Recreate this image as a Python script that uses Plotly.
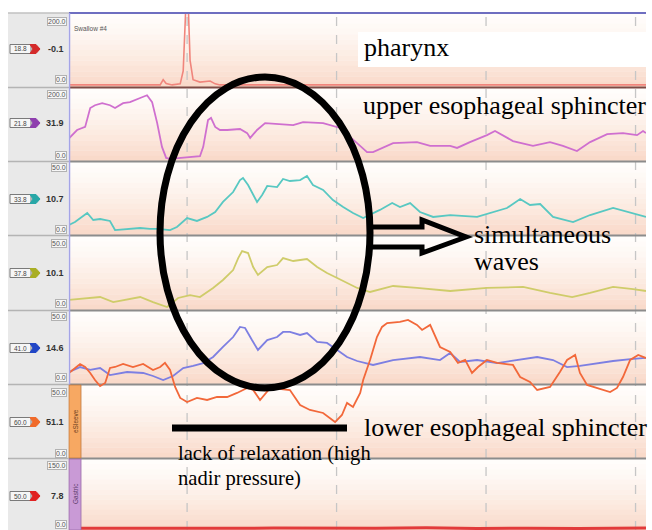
import plotly.graph_objects as go

# ---------------- data: time (s) and pressure (mmHg) ----------------
pharynx_t = [1.05, 4.10, 4.20, 4.30, 4.50, 4.77, 4.87, 4.97, 5.03, 5.10, 5.20, 5.43, 5.77, 5.94, 6.10, 20.35]
pharynx_v = [0, 0, 15, 4, 0, 3, 40, 250, 250, 70, 15, 8, 11, 3, 0, 0]

ues_t = [1.05, 1.32, 1.59, 1.76, 1.92, 2.16, 2.42, 2.59, 2.86, 3.09, 3.43, 3.66, 3.83, 4.00, 4.16,
         4.30, 4.43, 5.43, 5.54, 5.70, 5.80, 5.94, 6.10, 6.34, 6.77, 7.01, 7.11, 7.34, 7.61, 8.11,
         8.55, 8.88, 9.55, 10.12, 11.02, 11.22, 11.89, 12.69, 13.13, 13.80, 14.03, 14.46, 15.03,
         15.30, 15.53, 15.90, 16.57, 17.14, 17.57, 18.04, 18.48, 19.05, 19.58, 20.05, 20.25, 20.35]
ues_v = [60, 84, 93, 148, 156, 162, 156, 148, 162, 165, 177, 185, 165, 104, 35,
         3, 0, 8, 35, 113, 119, 93, 84, 84, 87, 75, 61, 84, 104, 101,
         98, 107, 104, 90, 20, 20, 46, 49, 38, 38, 32, 49, 69,
         81, 69, 52, 38, 49, 38, 23, 49, 72, 75, 69, 81, 75]

cyan_t = [1.05, 1.25, 1.66, 1.86, 2.09, 2.42, 2.59, 2.93, 3.43, 3.76, 4.00, 4.43, 4.66, 5.00, 5.33,
          5.67, 5.94, 6.20, 6.54, 6.77, 6.87, 7.04, 7.34, 7.51, 7.68, 8.01, 8.21, 8.44, 8.78, 9.01,
          9.21, 9.55, 9.88, 10.22, 10.55, 10.89, 11.45, 11.86, 12.12, 12.46, 12.79, 13.23, 13.80,
          14.70, 15.13, 15.70, 16.14, 16.47, 16.81, 17.24, 17.91, 18.48, 19.25, 19.82, 20.35]
cyan_v = [5.8, 7.9, 14.5, 9.4, 10.1, 8.7, 2.1, 2.9, 3.6, 2.9, 2.9, 2.1, 4.3, 10.8, 8.7,
          11.6, 15.2, 22.5, 29.7, 38.4, 39.9, 34.8, 22.5, 27.5, 34.1, 33.3, 39.2, 37.7, 38.4, 41.3,
          34.8, 31.2, 23.9, 18.8, 14.5, 10.8, 16.7, 21.7, 18.8, 21.7, 15.2, 11.6, 13.0,
          11.6, 14.5, 18.1, 24.6, 20.3, 21.0, 11.6, 7.9, 13.0, 18.1, 14.5, 11.6]

yel_t = [1.05, 2.09, 2.53, 3.43, 3.86, 4.33, 4.70, 5.10, 5.43, 5.87, 6.20, 6.54, 6.71, 6.84, 7.04,
         7.21, 7.37, 7.68, 8.01, 8.21, 8.55, 9.01, 9.35, 9.68, 10.02, 10.35, 10.69, 11.12, 11.89,
         12.69, 13.80, 15.03, 16.24, 17.14, 17.88, 18.48, 19.25, 19.92, 20.35]
yel_v = [5.7, 7.8, 4.2, 7.8, 4.2, 0.6, 7.1, 9.2, 7.8, 14.3, 20.0, 27.1, 35.7, 40.7, 39.3,
         29.3, 23.6, 29.3, 30.7, 35.7, 33.6, 35.0, 29.3, 25.0, 21.4, 17.8, 14.3, 11.4, 15.7,
         14.3, 12.1, 14.3, 15.0, 10.7, 7.8, 10.7, 15.0, 13.5, 12.1]

blue_t = [1.05, 1.42, 1.76, 2.09, 2.42, 2.99, 3.53, 3.86, 4.20, 4.53, 4.87, 5.20, 5.54, 5.87, 6.20,
          6.54, 6.77, 6.94, 7.17, 7.37, 7.68, 8.01, 8.21, 8.44, 8.78, 9.01, 9.35, 9.68, 10.02, 10.35,
          10.69, 11.22, 11.89, 12.79, 13.46, 13.80, 14.13, 14.70, 15.37, 16.24, 16.71, 17.24, 17.71,
          18.14, 18.71, 19.25, 19.92, 20.35]
blue_v = [7.2, 10.8, 8.7, 10.1, 5.0, 7.2, 6.5, 4.3, 1.4, 4.3, 10.1, 11.6, 13.7, 18.1, 25.4,
          32.6, 39.9, 39.2, 30.4, 23.2, 30.4, 32.6, 36.3, 36.3, 34.1, 35.5, 29.0, 28.3, 23.2, 18.1,
          15.2, 12.3, 15.9, 18.1, 15.9, 21.0, 14.5, 15.9, 13.7, 16.7, 18.1, 15.9, 10.8,
          11.6, 13.7, 15.2, 16.7, 17.4]

esleeve_t = [1.05, 1.42, 1.59, 1.76, 1.92, 2.09, 2.26, 2.42, 2.59, 2.86, 3.19, 3.53, 3.86, 4.10, 4.26,
             4.43, 4.60, 4.77, 5.00, 5.33, 5.67, 6.00, 6.34, 6.67, 7.01, 7.21, 7.44, 7.68, 7.78, 8.44,
             8.78, 9.11, 9.55, 9.95, 10.18, 10.35, 10.55, 10.79, 10.89, 11.12, 11.35, 11.52, 11.69,
             12.12, 12.39, 12.69, 12.86, 13.13, 13.30, 13.46, 13.80, 14.06, 14.30, 14.53, 14.73,
             15.03, 15.37, 15.90, 16.14, 16.47, 16.71, 17.14, 17.47, 17.71, 17.98, 18.14, 18.38,
             18.71, 19.15, 19.38, 19.58, 19.82, 20.09, 20.35]
esleeve_v = [60.4, 67.0, 64.8, 60.4, 55.2, 50.7, 53.0, 64.1, 64.8, 67.0, 64.8, 67.0, 62.6, 64.8, 67.8,
             62.6, 50.0, 41.9, 38.9, 41.9, 40.4, 42.6, 42.6, 45.6, 49.3, 47.8, 40.4, 46.3, 49.3, 47.8,
             36.7, 33.0, 30.8, 24.1, 29.3, 38.2, 35.2, 45.6, 55.2, 70.0, 87.0, 94.4, 97.3,
             98.1, 99.6, 95.9, 92.2, 95.9, 87.0, 79.6, 75.9, 67.8, 70.0, 60.4, 64.8,
             70.0, 67.8, 66.3, 57.4, 53.7, 47.8, 50.0, 61.1, 70.0, 73.7, 60.4, 51.5,
             49.3, 46.3, 49.3, 57.4, 70.0, 73.7, 71.4]

gastric_t = [1.05, 2.8, 4.5, 6.2, 7.9, 9.6, 11.3, 13.0, 14.7, 16.4, 18.1, 20.35]
gastric_v = [1.0, 0.5, 1.5, 0.8, 1.2, 0.3, 1.0, 1.8, 0.6, 1.1, 0.4, 1.3]

# channel labels shown in the left column
badge_labels = ["18.8", "21.8", "33.8", "37.8", "41.0", "60.0", "50.0"]
current_values = ["-0.1", "31.9", "10.7", "10.1", "14.6", "51.1", "7.8"]
scale_max_labels = ["200.0", "200.0", "50.0", "50.0", "50.0", "50.0", "150.0"]
scale_min_labels = ["0.0"] * 7
gridline_times = [5, 10, 15, 20]

# ---------------- layout helpers ----------------
W, H = 652, 530


def X(px):
    return px / W


def Y(py):
    return 1 - py / H


# panel geometry (top px, bottom px) and axis ranges
panel_px = [(13, 87), (88, 161), (162, 235), (236, 310), (311, 384), (385, 458), (459, 530)]
panel_rng = [(-6, 206), (-6, 206), (-1.5, 51.5), (-1.5, 51.5), (-1.5, 51.5), (-2.5, 51.5), (-3, 155)]
badge_colors = ["#d42a2a", "#8e3fae", "#28a7a7", "#a9ae24", "#2146c6", "#f06a2a", "#e02222"]
label_mid = [49, 123, 199, 273, 348, 422, 496]
label_top = [22, 95, 168, 243, 316, 392, 465]
label_bot = [80, 155, 229, 303, 377, 453, 524]

fig = go.Figure()

traces = [
    (pharynx_t, pharynx_v, "y", "#f0857c", 1.6),
    (ues_t, ues_v, "y2", "#cf6fcf", 1.8),
    (cyan_t, cyan_v, "y3", "#58c8c2", 1.8),
    (yel_t, yel_v, "y4", "#cfcc6a", 1.8),
    (blue_t, blue_v, "y5", "#7d7fe2", 1.8),
    (esleeve_t, esleeve_v, "y8", "#f2683a", 1.8),
    (gastric_t, gastric_v, "y7", "#e23a3a", 3),
]
for t, v, ya, col, w in traces:
    fig.add_trace(go.Scatter(x=t, y=v, mode="lines", yaxis=ya, xaxis="x",
                             line=dict(color=col, width=w), hoverinfo="skip", showlegend=False))

layout = dict(
    width=W, height=H, margin=dict(l=0, r=0, t=0, b=0),
    paper_bgcolor="white", plot_bgcolor="rgba(0,0,0,0)", showlegend=False,
    xaxis=dict(domain=[X(69), X(646)], range=[1.05, 20.35], visible=False, anchor="y", fixedrange=True),
)
for i, ((top, bot), rng) in enumerate(zip(panel_px, panel_rng)):
    key = "yaxis" if i == 0 else f"yaxis{i + 1}"
    layout[key] = dict(domain=[Y(bot), Y(top)], range=list(rng), visible=False, anchor="x", fixedrange=True)
# overlay axis for eSleeve trace spanning panels 5 and 6 (over-range shows in panel above)
layout["yaxis8"] = dict(domain=[Y(458), Y(311)], range=[-2.5, 106.2], visible=False, anchor="x", fixedrange=True)
fig.update_layout(**layout)

shapes = []
# left column background
shapes.append(dict(type="rect", xref="paper", yref="paper", x0=X(8), x1=X(68.5), y0=Y(530), y1=Y(13),
                   fillcolor="#e9e9e9", line=dict(width=0), layer="below"))
# gradient bands in panels
NB = 14
top_c = (255, 253, 251)
bot_c = (249, 216, 199)
for top, bot in panel_px:
    h = (bot - top) / NB
    for k in range(NB):
        f = ((k + 0.5) / NB) ** 1.4
        c = tuple(int(round(top_c[j] + (bot_c[j] - top_c[j]) * f)) for j in range(3))
        shapes.append(dict(type="rect", xref="paper", yref="paper", x0=X(69), x1=X(646),
                           y0=Y(top + (k + 1) * h + 0.3), y1=Y(top + k * h),
                           fillcolor=f"rgb{c}", line=dict(width=0), layer="below"))
# dashed time gridlines
for gt in gridline_times:
    shapes.append(dict(type="line", xref="x", yref="paper", x0=gt, x1=gt, y0=Y(530), y1=Y(13),
                       line=dict(color="#c6c6c6", width=1.3, dash="dash"), layer="below"))
# panel separators
for i, (top, bot) in enumerate(panel_px[:-1]):
    yy = (bot + panel_px[i + 1][0]) / 2
    col = "#7d4a44" if i == 0 else "#8c8c8c"
    shapes.append(dict(type="line", xref="paper", yref="paper", x0=X(69), x1=X(646), y0=Y(yy), y1=Y(yy),
                       line=dict(color=col, width=2), layer="below"))
    shapes.append(dict(type="line", xref="paper", yref="paper", x0=X(8), x1=X(69), y0=Y(yy), y1=Y(yy),
                       line=dict(color="#b4b4b4", width=1.5), layer="below"))
# top border
shapes.append(dict(type="line", xref="paper", yref="paper", x0=X(69), x1=X(646), y0=Y(13), y1=Y(13),
                   line=dict(color="#6e6ec0", width=2), layer="above"))
shapes.append(dict(type="line", xref="paper", yref="paper", x0=X(8), x1=X(69), y0=Y(13), y1=Y(13),
                   line=dict(color="#c0c0c0", width=1.5), layer="above"))
# left edge of plot
shapes.append(dict(type="line", xref="paper", yref="paper", x0=X(69.5), x1=X(69.5), y0=Y(385), y1=Y(13),
                   line=dict(color="#a4a4e6", width=1.5), layer="above"))
# eSleeve and Gastric side bars
shapes.append(dict(type="rect", xref="paper", yref="paper", x0=X(69), x1=X(81), y0=Y(458), y1=Y(385),
                   fillcolor="#f7a862", line=dict(color="#c07a40", width=0.8), layer="above"))
shapes.append(dict(type="rect", xref="paper", yref="paper", x0=X(69), x1=X(81), y0=Y(530), y1=Y(459),
                   fillcolor="#c99ad6", line=dict(color="#9a6aa8", width=0.8), layer="above"))
# badges in left column
for i, ym in enumerate(label_mid):
    shapes.append(dict(type="rect", xref="paper", yref="paper", x0=X(10), x1=X(31), y0=Y(ym + 4.5), y1=Y(ym - 4.5),
                       fillcolor="#f6f6f6", line=dict(color="#7a7a7a", width=1), layer="above"))
    path = (f"M {X(30)},{Y(ym - 4.5)} L {X(36)},{Y(ym - 4.5)} L {X(40)},{Y(ym)} "
            f"L {X(36)},{Y(ym + 4.5)} L {X(30)},{Y(ym + 4.5)} L {X(33)},{Y(ym)} Z")
    shapes.append(dict(type="path", xref="paper", yref="paper", path=path,
                       fillcolor=badge_colors[i], line=dict(color=badge_colors[i], width=1), layer="above"))
# white box behind "pharynx"
shapes.append(dict(type="rect", xref="paper", yref="paper", x0=X(358), x1=X(646), y0=Y(67), y1=Y(32),
                   fillcolor="white", line=dict(width=0), layer="above"))
# ellipse
shapes.append(dict(type="circle", xref="paper", yref="paper", x0=X(160), x1=X(370), y0=Y(388), y1=Y(77),
                   line=dict(color="black", width=7), layer="above"))
# outlined block arrow
pts = [(370, 227), (422, 227), (422, 220), (466, 237), (422, 253), (422, 247), (370, 247)]
apath = "M " + " L ".join(f"{X(a)},{Y(b)}" for a, b in pts)
shapes.append(dict(type="path", xref="paper", yref="paper", path=apath,
                   line=dict(color="black", width=5), layer="above"))
# black bar under LES
shapes.append(dict(type="line", xref="paper", yref="paper", x0=X(172), x1=X(347), y0=Y(428), y1=Y(428),
                   line=dict(color="black", width=7), layer="above"))
fig.update_layout(shapes=shapes)

ann = []
small = dict(family="Liberation Sans, Arial", size=7, color="#555555")
for i in range(7):
    ann.append(dict(xref="paper", yref="paper", x=X(67), y=Y(label_top[i]), text=scale_max_labels[i],
                    showarrow=False, xanchor="right", yanchor="middle", font=small,
                    bgcolor="#f7f7f7", bordercolor="#b2b2b2", borderwidth=1, borderpad=0))
    ann.append(dict(xref="paper", yref="paper", x=X(67), y=Y(label_bot[i]), text=scale_min_labels[i],
                    showarrow=False, xanchor="right", yanchor="middle", font=small,
                    bgcolor="#f7f7f7", bordercolor="#b2b2b2", borderwidth=1, borderpad=0))
    ann.append(dict(xref="paper", yref="paper", x=X(20.5), y=Y(label_mid[i]), text=badge_labels[i],
                    showarrow=False, xanchor="center", yanchor="middle",
                    font=dict(family="Liberation Sans, Arial", size=6.5, color="#444444")))
    ann.append(dict(xref="paper", yref="paper", x=X(66), y=Y(label_mid[i]), text=f"<b>{current_values[i]}</b>",
                    showarrow=False, xanchor="right", yanchor="middle",
                    font=dict(family="Liberation Sans, Arial", size=9, color="#333333")))
ann.append(dict(xref="paper", yref="paper", x=X(72), y=Y(29), text="Swallow #4", showarrow=False,
                xanchor="left", yanchor="middle", font=dict(family="Liberation Sans, Arial", size=6.5, color="#555555")))
ann.append(dict(xref="paper", yref="paper", x=X(75), y=Y(421), text="eSleeve", showarrow=False, textangle=-90,
                xanchor="center", yanchor="middle", font=dict(family="Liberation Sans, Arial", size=6.5, color="#6a4020")))
ann.append(dict(xref="paper", yref="paper", x=X(75), y=Y(494), text="Gastric", showarrow=False, textangle=-90,
                xanchor="center", yanchor="middle", font=dict(family="Liberation Sans, Arial", size=6.5, color="#5a3a6a")))

serif = "Liberation Serif, Times New Roman, serif"
big = dict(family=serif, size=26, color="black")
for txt, px, py, fnt in [
    ("pharynx", 362, 48, big),
    ("upper esophageal sphincter", 361, 105, big),
    ("simultaneous", 472, 234, big),
    ("waves", 472, 261, big),
    ("lower esophageal sphincter", 362, 427, big),
    ("lack of relaxation (high", 176, 453, dict(family=serif, size=20.6, color="black")),
    ("nadir pressure)", 176, 478, dict(family=serif, size=20.6, color="black")),
]:
    ann.append(dict(xref="paper", yref="paper", x=X(px), y=Y(py), text=txt, showarrow=False,
                    xanchor="left", yanchor="middle", font=fnt))
fig.update_layout(annotations=ann)

fig.write_html(
    "out.html",
    config={"displayModeBar": False},
    post_script="document.body.style.margin='0px';document.body.style.padding='0px';"
                "document.body.style.overflow='hidden';",
)
